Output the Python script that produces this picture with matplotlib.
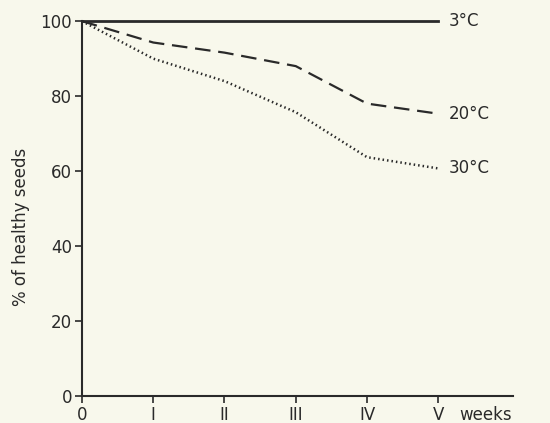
import matplotlib.pyplot as plt

weeks = [0, 1, 2, 3, 4, 5]
week_labels = ["0", "I", "II", "III", "IV", "V"]
t3 = [100, 100, 100, 100, 100, 100]
t20 = [100, 94.3, 91.6, 88.0, 78.0, 75.3]
t30 = [100, 90.0, 84.0, 75.7, 63.7, 60.7]

bg = "#f8f8ec"
ink = "#2a2a2a"

plt.rcParams['font.family'] = ['DejaVu Sans']
fig = plt.figure(figsize=(5.5, 4.23), dpi=100, facecolor=bg)
ax = fig.add_axes([0.149, 0.064, 0.784, 0.886], facecolor=bg)

ax.plot(weeks, t3, '-', color=ink, lw=2, clip_on=False)
ax.plot(weeks, t20, color=ink, lw=1.6, dashes=(7, 3.5), clip_on=False)
ax.plot(weeks, t30, color=ink, lw=1.8, dashes=(0.6, 1.2), clip_on=False)

for vals, lab in [(t3, "3°C"), (t20, "20°C"), (t30, "30°C")]:
    ax.text(5.15, vals[-1], lab, color=ink, fontsize=12, va='center', ha='left')

ax.set_xlim(0, 6.05)
ax.set_ylim(0, 100)
ax.set_yticks([0, 20, 40, 60, 80, 100])
ax.set_xticks(weeks)
ax.set_xticklabels(week_labels)
ax.annotate("weeks", xy=(5.3, 0), xycoords=('data', 'axes fraction'),
            xytext=(0, -7), textcoords='offset points',
            color=ink, fontsize=12, va='top', ha='left')

for s in ['top', 'right']:
    ax.spines[s].set_visible(False)
for s in ['left', 'bottom']:
    ax.spines[s].set_color(ink)
    ax.spines[s].set_linewidth(1.5)
ax.tick_params(colors=ink, labelsize=12, length=5, width=1.2, pad=2)
ax.set_ylabel("% of healthy seeds", color=ink, fontsize=12)
ax.yaxis.set_label_coords(-0.12, 0.45)

fig.savefig("out.png", dpi=100, facecolor=bg)
